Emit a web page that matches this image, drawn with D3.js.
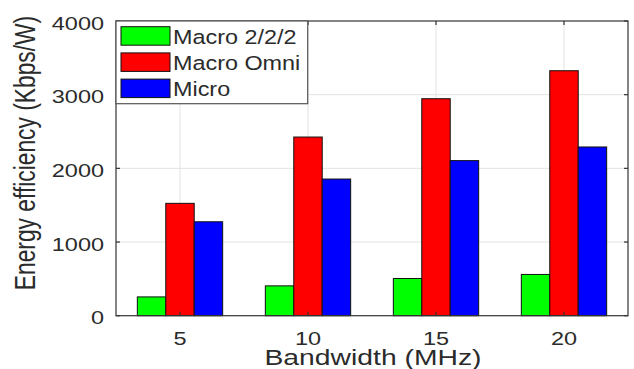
<!DOCTYPE html>
<html><head><meta charset="utf-8">
<script src="https://cdn.jsdelivr.net/npm/d3@7"></script>
<style>body{margin:0;background:#fff}svg{display:block}text{font-family:"Liberation Sans",Arial,sans-serif;fill:#2b2b2b}</style>
</head><body><svg id="c" width="634" height="369"></svg>
<script>
const categories = ["5", "10", "15", "20"];
const seriesNames = ["Macro 2/2/2", "Macro Omni", "Micro"];
const macro222 = [255, 405, 505, 560];
const macroOmni = [1525, 2425, 2945, 3325];
const micro = [1275, 1855, 2105, 2290];
const yTicks = [0, 1000, 2000, 3000, 4000];
const colors = ["#00ff00", "#ff0000", "#0000ff"];
const xLabel = "Bandwidth (MHz)";
const yLabel = "Energy efficiency (Kbps/W)";

const series = [macro222, macroOmni, micro];
const svg = d3.select("#c");
const L = 116, R = 628, T = 21, B = 315.7;
const SX = 1.27;
const x = d3.scaleBand().domain(categories).range([L, R]);
const bw = x.bandwidth();
const xs = d3.scaleBand().domain(seriesNames).range([bw / 6, bw * 5 / 6]);
const y = d3.scaleLinear().domain([0, 4000]).range([B, T]);

// grid
const grid = svg.append("g").attr("stroke", "#e3e3e3").attr("stroke-width", 1);
categories.forEach(c => grid.append("line").attr("x1", x(c) + bw / 2).attr("x2", x(c) + bw / 2).attr("y1", T).attr("y2", B));
yTicks.slice(1, -1).forEach(v => grid.append("line").attr("x1", L).attr("x2", R).attr("y1", y(v)).attr("y2", y(v)));

// bars
categories.forEach((c, i) => {
  seriesNames.forEach((s, j) => {
    const v = series[j][i];
    svg.append("rect").attr("x", x(c) + xs(s)).attr("width", xs.bandwidth())
      .attr("y", y(v)).attr("height", y(0) - y(v))
      .attr("fill", colors[j]).attr("stroke", "#111").attr("stroke-width", 1);
  });
});

// axes box + ticks
const ax = svg.append("g").attr("stroke", "#333").attr("stroke-width", 1.2).attr("fill", "none");
ax.append("rect").attr("x", L).attr("y", T).attr("width", R - L).attr("height", B - T);
const tl = 4;
categories.forEach(c => {
  const cx = x(c) + bw / 2;
  ax.append("line").attr("x1", cx).attr("x2", cx).attr("y1", B).attr("y2", B - tl);
  ax.append("line").attr("x1", cx).attr("x2", cx).attr("y1", T).attr("y2", T + tl);
});
yTicks.forEach(v => {
  ax.append("line").attr("x1", L).attr("x2", L + tl).attr("y1", y(v)).attr("y2", y(v));
  ax.append("line").attr("x1", R).attr("x2", R - tl).attr("y1", y(v)).attr("y2", y(v));
});

function stext(xp, yp, str, size, anchor, sx, rot) {
  const g = svg.append("g").attr("transform", `translate(${xp},${yp}) scale(${sx},1)` + (rot ? ` rotate(${rot})` : ""));
  g.append("text").attr("x", 0).attr("y", 0).attr("text-anchor", anchor).attr("font-size", size).text(str);
  return g;
}
// tick labels
categories.forEach(c => stext(x(c) + bw / 2, 344.5, c, 18.5, "middle", SX));
yTicks.forEach(v => stext(104, y(v) + 8.7, String(v), 18.5, "end", SX));
// axis labels
stext(373, 364.5, xLabel, 22.3, "middle", SX);
stext(35, 153, yLabel, 22.8, "middle", SX, -90);

// legend
const lg = svg.append("g");
lg.append("rect").attr("x", L).attr("y", T).attr("width", 307.7 - L).attr("height", 103.7 - T)
  .attr("fill", "#fff").attr("stroke", "#555").attr("stroke-width", 1.2);
seriesNames.forEach((s, j) => {
  const yy = 26.7 + j * 26.2;
  lg.append("rect").attr("x", 121).attr("y", yy).attr("width", 49).attr("height", 18.5)
    .attr("fill", colors[j]).attr("stroke", "#111").attr("stroke-width", 1);
  stext(173, yy + 16.8, s, 19.5, "start", 1.2);
});
</script></body></html>
